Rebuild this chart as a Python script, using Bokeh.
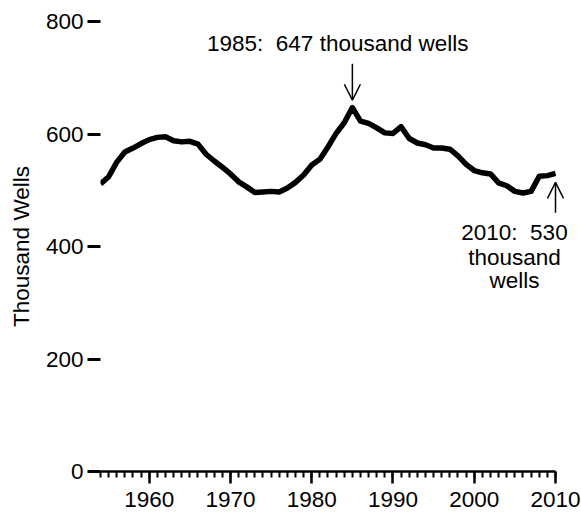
from bokeh.plotting import figure
from bokeh.models import Range1d, SingleIntervalTicker, FixedTicker, Arrow, OpenHead, Label
from bokeh.embed import file_html
from bokeh.resources import INLINE

years = list(range(1954, 2011))
wells = [511, 524, 550, 568, 575, 583, 590, 594, 595, 588, 586, 587, 582, 564,
         552, 541, 529, 515, 506, 496, 497, 498, 497, 504, 514, 527, 545, 555,
         577, 601, 620, 647, 623, 619, 611, 602, 601, 613, 592, 584, 581, 575,
         575, 573, 561, 546, 535, 531, 529, 513, 508, 498, 495, 498, 525, 526, 530]

y_ticks = [0, 200, 400, 600, 800]

peak_year, peak_value = 1985, 647
peak_text = "1985:\u00a0 647 thousand wells"
last_year, last_value = 2010, 530
last_lines = ["2010:\u00a0 530", "thousand", "wells"]
last_line_y = [425, 381, 339]

FONT = "Liberation Sans"
FS = "22.5px"

p = figure(width=581, height=515, x_range=Range1d(1954, 2012.585), y_range=Range1d(0, 800),
           output_backend="svg", toolbar_location=None,
           min_border_left=100, min_border_right=5, min_border_top=21, min_border_bottom=44)
p.outline_line_color = None
p.xgrid.visible = False
p.ygrid.visible = False

p.line(years, wells, line_width=5.5, line_color="black", line_join="round")

# y axis
p.yaxis.ticker = FixedTicker(ticks=y_ticks)
p.yaxis.axis_line_color = None
p.yaxis.major_tick_in = 0
p.yaxis.major_tick_out = 13
p.yaxis.major_tick_line_width = 3
p.yaxis.minor_tick_line_color = None
p.yaxis.major_label_standoff = 4
p.yaxis.major_label_text_font = FONT
p.yaxis.major_label_text_font_size = FS
p.yaxis.major_label_text_color = "black"
p.yaxis.axis_label = "Thousand Wells"
p.yaxis.axis_label_text_font = FONT
p.yaxis.axis_label_text_font_size = FS
p.yaxis.axis_label_text_font_style = "normal"
p.yaxis.axis_label_text_color = "black"
p.yaxis.axis_label_standoff = 9

# x axis
p.xaxis.bounds = (1954, 2010)
p.xaxis.ticker = SingleIntervalTicker(interval=10, num_minor_ticks=10)
p.xaxis.axis_line_width = 2.5
p.xaxis.axis_line_color = "black"
p.xaxis.major_tick_in = 0
p.xaxis.major_tick_out = 12
p.xaxis.major_tick_line_width = 2.5
p.xaxis.minor_tick_in = 0
p.xaxis.minor_tick_out = 6
p.xaxis.minor_tick_line_width = 2
p.xaxis.minor_tick_line_color = "black"
p.xaxis.major_label_standoff = 8
p.xaxis.major_label_text_font = FONT
p.xaxis.major_label_text_font_size = FS
p.xaxis.major_label_text_color = "black"

# annotations
p.add_layout(Label(x=1983.2, y=761, text=peak_text, text_font=FONT, text_font_size=FS,
                   text_align="center", text_baseline="middle", text_color="black"))
p.add_layout(Arrow(end=OpenHead(size=16, line_width=1.5), x_start=peak_year, y_start=725,
                   x_end=peak_year, y_end=660, line_width=1.5, line_color="black"))
for txt, ty in zip(last_lines, last_line_y):
    p.add_layout(Label(x=2004.95, y=ty, text=txt, text_font=FONT, text_font_size=FS,
                       text_align="center", text_baseline="middle", text_color="black"))
p.add_layout(Arrow(end=OpenHead(size=16, line_width=1.5), x_start=last_year, y_start=460,
                   x_end=last_year, y_end=514, line_width=1.5, line_color="black"))

open("out.html", "w").write(file_html(p, INLINE))
